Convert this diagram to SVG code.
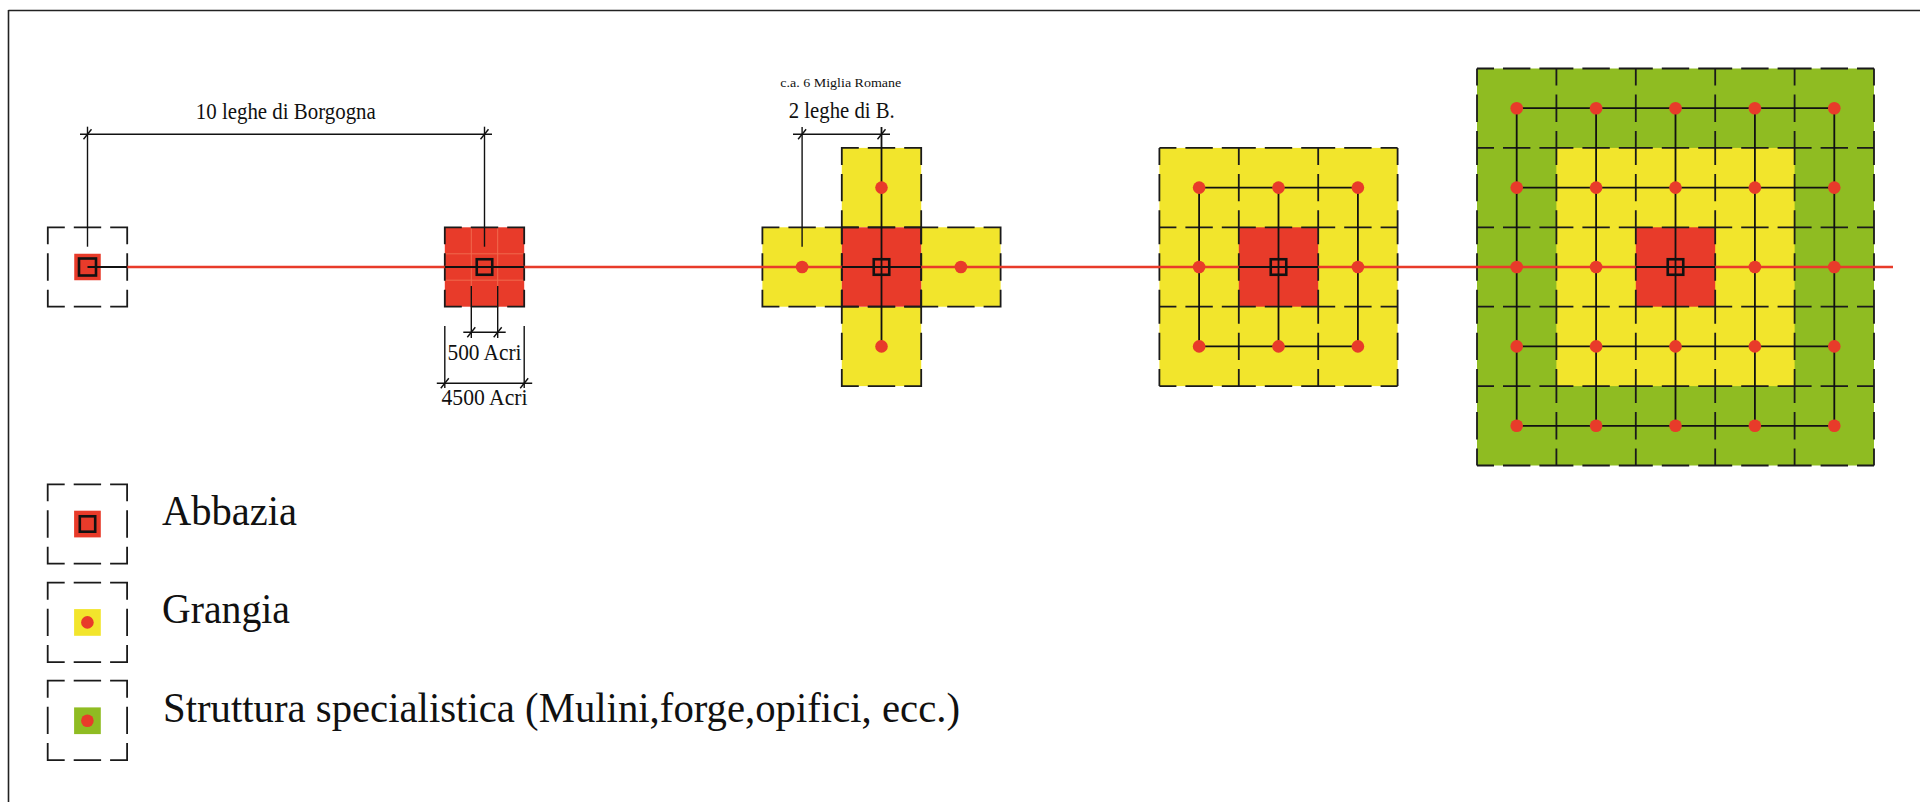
<svg xmlns="http://www.w3.org/2000/svg" width="1920" height="802" viewBox="0 0 1920 802">
<style>
.red{fill:#e83b2a}
.yel{fill:#f2e52c}
.grn{fill:#8fbc22}
.dash{fill:none;stroke:#1a1a1a;stroke-width:1.8;stroke-dasharray:34 9 27.4 9;stroke-dashoffset:17}
.ln{stroke:#111;stroke-width:1.8;fill:none}
.dim{stroke:#111;stroke-width:1.4;fill:none}
.road{stroke:#e83b2a;stroke-width:2.6;fill:none}
.sub{stroke:#f06a4e;stroke-width:1;fill:none}
.sq{fill:none;stroke:#111;stroke-width:2.6}
.dot{fill:#e83b2a}
.t{font-family:"Liberation Serif","Times New Roman",serif;fill:#111}
</style>
<rect width="1920" height="802" fill="#ffffff"/>
<g id="frame">
<line x1="8.5" y1="10.5" x2="1920" y2="10.5" stroke="#222" stroke-width="1.6"/>
<line x1="8.5" y1="10" x2="8.5" y2="802" stroke="#222" stroke-width="1.6"/>
</g>

<!-- node 1: single abbey -->
<g id="node-abbazia-1">
<rect class="red" x="74.25" y="253.75" width="26.5" height="26.5"/>
<rect class="dash" x="47.8" y="227.3" width="79.4" height="79.4"/>
</g>

<!-- node 2: abbey with 4500 acres -->
<g id="node-abbazia-2">
<rect class="red" x="444.8" y="227.3" width="79.4" height="79.4"/>
<line class="sub" x1="471.3" y1="227.3" x2="471.3" y2="306.7"/>
<line class="sub" x1="497.7" y1="227.3" x2="497.7" y2="306.7"/>
<line class="sub" x1="444.8" y1="253.8" x2="524.2" y2="253.8"/>
<line class="sub" x1="444.8" y1="280.2" x2="524.2" y2="280.2"/>
<rect class="dash" x="444.8" y="227.3" width="79.4" height="79.4"/>
</g>

<!-- node 3: cross of granges -->
<g id="node-croce">
<rect class="yel" x="841.8" y="147.9" width="79.4" height="79.4"/>
<rect class="yel" x="841.8" y="306.7" width="79.4" height="79.4"/>
<rect class="yel" x="762.4" y="227.3" width="79.4" height="79.4"/>
<rect class="yel" x="921.2" y="227.3" width="79.4" height="79.4"/>
<rect class="red" x="841.8" y="227.3" width="79.4" height="79.4"/>
<rect class="dash" x="841.8" y="147.9" width="79.4" height="79.4"/>
<rect class="dash" x="841.8" y="306.7" width="79.4" height="79.4"/>
<rect class="dash" x="762.4" y="227.3" width="79.4" height="79.4"/>
<rect class="dash" x="921.2" y="227.3" width="79.4" height="79.4"/>
<rect class="dash" x="841.8" y="227.3" width="79.4" height="79.4"/>
</g>

<!-- node 4: 3x3 -->
<g id="node-griglia-3x3">
<rect class="yel" x="1159.4" y="147.9" width="238.2" height="238.2"/>
<rect class="red" x="1238.8" y="227.3" width="79.4" height="79.4"/>
<line class="dash" x1="1159.4" y1="147.9" x2="1397.6" y2="147.9"/>
<line class="dash" x1="1159.4" y1="227.3" x2="1397.6" y2="227.3"/>
<line class="dash" x1="1159.4" y1="306.7" x2="1397.6" y2="306.7"/>
<line class="dash" x1="1159.4" y1="386.1" x2="1397.6" y2="386.1"/>
<line class="dash" x1="1159.4" y1="147.9" x2="1159.4" y2="386.1"/>
<line class="dash" x1="1238.8" y1="147.9" x2="1238.8" y2="386.1"/>
<line class="dash" x1="1318.2" y1="147.9" x2="1318.2" y2="386.1"/>
<line class="dash" x1="1397.6" y1="147.9" x2="1397.6" y2="386.1"/>
</g>

<!-- node 5: 5x5 -->
<g id="node-griglia-5x5">
<rect class="grn" x="1477" y="68.5" width="397" height="397"/>
<rect class="yel" x="1556.4" y="147.9" width="238.2" height="238.2"/>
<rect class="red" x="1635.8" y="227.3" width="79.4" height="79.4"/>
<line class="dash" x1="1477" y1="68.5" x2="1874" y2="68.5"/>
<line class="dash" x1="1477" y1="147.9" x2="1874" y2="147.9"/>
<line class="dash" x1="1477" y1="227.3" x2="1874" y2="227.3"/>
<line class="dash" x1="1477" y1="306.7" x2="1874" y2="306.7"/>
<line class="dash" x1="1477" y1="386.1" x2="1874" y2="386.1"/>
<line class="dash" x1="1477" y1="465.5" x2="1874" y2="465.5"/>
<line class="dash" x1="1477" y1="68.5" x2="1477" y2="465.5"/>
<line class="dash" x1="1556.4" y1="68.5" x2="1556.4" y2="465.5"/>
<line class="dash" x1="1635.8" y1="68.5" x2="1635.8" y2="465.5"/>
<line class="dash" x1="1715.2" y1="68.5" x2="1715.2" y2="465.5"/>
<line class="dash" x1="1794.6" y1="68.5" x2="1794.6" y2="465.5"/>
<line class="dash" x1="1874" y1="68.5" x2="1874" y2="465.5"/>
</g>

<!-- connectors -->
<g id="connectors">
<line class="road" x1="127.2" y1="267" x2="1893" y2="267"/>
<line class="ln" x1="87.5" y1="267" x2="127.2" y2="267" stroke-width="2.2"/>
<line class="ln" x1="444.8" y1="267" x2="524.2" y2="267" stroke-width="2.2"/>
<line class="ln" x1="841.8" y1="267" x2="921.2" y2="267" stroke-width="2.2"/>
<line class="ln" x1="881.5" y1="127" x2="881.5" y2="346.4"/>
<line class="ln" x1="1238.8" y1="267" x2="1318.2" y2="267" stroke-width="2.2"/>
<line class="ln" x1="1199.1" y1="187.6" x2="1357.9" y2="187.6"/>
<line class="ln" x1="1199.1" y1="346.4" x2="1357.9" y2="346.4"/>
<line class="ln" x1="1199.1" y1="187.6" x2="1199.1" y2="346.4"/>
<line class="ln" x1="1278.5" y1="187.6" x2="1278.5" y2="346.4"/>
<line class="ln" x1="1357.9" y1="187.6" x2="1357.9" y2="346.4"/>
<line class="ln" x1="1635.8" y1="267" x2="1715.2" y2="267" stroke-width="2.2"/>
<line class="ln" x1="1516.7" y1="108.2" x2="1834.3" y2="108.2"/>
<line class="ln" x1="1516.7" y1="187.6" x2="1834.3" y2="187.6"/>
<line class="ln" x1="1516.7" y1="346.4" x2="1834.3" y2="346.4"/>
<line class="ln" x1="1516.7" y1="425.8" x2="1834.3" y2="425.8"/>
<line class="ln" x1="1516.7" y1="108.2" x2="1516.7" y2="425.8"/>
<line class="ln" x1="1596.1" y1="108.2" x2="1596.1" y2="425.8"/>
<line class="ln" x1="1675.5" y1="108.2" x2="1675.5" y2="425.8"/>
<line class="ln" x1="1754.9" y1="108.2" x2="1754.9" y2="425.8"/>
<line class="ln" x1="1834.3" y1="108.2" x2="1834.3" y2="425.8"/>
</g>

<!-- abbey marks and grange dots -->
<g id="sites">
<rect class="sq" x="79" y="258.5" width="17" height="17" stroke-width="3.2"/>
<rect class="sq" x="476.75" y="259.25" width="15.5" height="15.5"/>
<rect class="sq" x="873.75" y="259.25" width="15.5" height="15.5"/>
<rect class="sq" x="1270.75" y="259.25" width="15.5" height="15.5"/>
<rect class="sq" x="1667.75" y="259.25" width="15.5" height="15.5"/>
<g id="dots-croce">
<circle class="dot" cx="802.1" cy="267" r="6.3"/>
<circle class="dot" cx="960.9" cy="267" r="6.3"/>
<circle class="dot" cx="881.5" cy="187.6" r="6.3"/>
<circle class="dot" cx="881.5" cy="346.4" r="6.3"/>
</g>
<g id="dots-3x3">
<circle class="dot" cx="1199.1" cy="187.6" r="6.3"/>
<circle class="dot" cx="1278.5" cy="187.6" r="6.3"/>
<circle class="dot" cx="1357.9" cy="187.6" r="6.3"/>
<circle class="dot" cx="1199.1" cy="267" r="6.3"/>
<circle class="dot" cx="1357.9" cy="267" r="6.3"/>
<circle class="dot" cx="1199.1" cy="346.4" r="6.3"/>
<circle class="dot" cx="1278.5" cy="346.4" r="6.3"/>
<circle class="dot" cx="1357.9" cy="346.4" r="6.3"/>
</g>
<g id="dots-5x5">
<circle class="dot" cx="1516.7" cy="108.2" r="6.3"/>
<circle class="dot" cx="1596.1" cy="108.2" r="6.3"/>
<circle class="dot" cx="1675.5" cy="108.2" r="6.3"/>
<circle class="dot" cx="1754.9" cy="108.2" r="6.3"/>
<circle class="dot" cx="1834.3" cy="108.2" r="6.3"/>
<circle class="dot" cx="1516.7" cy="187.6" r="6.3"/>
<circle class="dot" cx="1596.1" cy="187.6" r="6.3"/>
<circle class="dot" cx="1675.5" cy="187.6" r="6.3"/>
<circle class="dot" cx="1754.9" cy="187.6" r="6.3"/>
<circle class="dot" cx="1834.3" cy="187.6" r="6.3"/>
<circle class="dot" cx="1516.7" cy="267" r="6.3"/>
<circle class="dot" cx="1596.1" cy="267" r="6.3"/>
<circle class="dot" cx="1754.9" cy="267" r="6.3"/>
<circle class="dot" cx="1834.3" cy="267" r="6.3"/>
<circle class="dot" cx="1516.7" cy="346.4" r="6.3"/>
<circle class="dot" cx="1596.1" cy="346.4" r="6.3"/>
<circle class="dot" cx="1675.5" cy="346.4" r="6.3"/>
<circle class="dot" cx="1754.9" cy="346.4" r="6.3"/>
<circle class="dot" cx="1834.3" cy="346.4" r="6.3"/>
<circle class="dot" cx="1516.7" cy="425.8" r="6.3"/>
<circle class="dot" cx="1596.1" cy="425.8" r="6.3"/>
<circle class="dot" cx="1675.5" cy="425.8" r="6.3"/>
<circle class="dot" cx="1754.9" cy="425.8" r="6.3"/>
<circle class="dot" cx="1834.3" cy="425.8" r="6.3"/>
</g>
</g>

<!-- dimensions -->
<g id="dim-10-leghe">
<line class="dim" x1="80" y1="134.3" x2="492" y2="134.3"/>
<line class="dim" x1="87.5" y1="126.7" x2="87.5" y2="246.7"/>
<line class="dim" x1="484.5" y1="126.7" x2="484.5" y2="246.7"/>
<path class="dim" d="M83.5 139.3 L91.5 129.3 M480.5 139.3 L488.5 129.3"/>
<text class="t" x="285.8" y="119.3" font-size="23" text-anchor="middle" textLength="180" lengthAdjust="spacingAndGlyphs">10 leghe di Borgogna</text>
</g>
<g id="dim-500-acri">
<line class="dim" x1="471.3" y1="286" x2="471.3" y2="338"/>
<line class="dim" x1="497.7" y1="286" x2="497.7" y2="338"/>
<line class="dim" x1="463.3" y1="332.3" x2="505.7" y2="332.3"/>
<path class="dim" d="M467.3 337.3 L475.3 327.3 M493.7 337.3 L501.7 327.3"/>
<text class="t" x="484.5" y="360" font-size="23" text-anchor="middle" textLength="74" lengthAdjust="spacingAndGlyphs">500 Acri</text>
</g>
<g id="dim-4500-acri">
<line class="dim" x1="444.8" y1="326" x2="444.8" y2="388"/>
<line class="dim" x1="524.2" y1="326" x2="524.2" y2="388"/>
<line class="dim" x1="436.8" y1="383.3" x2="532.2" y2="383.3"/>
<path class="dim" d="M440.8 388.3 L448.8 378.3 M520.2 388.3 L528.2 378.3"/>
<text class="t" x="484.5" y="405" font-size="23" text-anchor="middle" textLength="86" lengthAdjust="spacingAndGlyphs">4500 Acri</text>
</g>
<g id="dim-2-leghe">
<line class="dim" x1="793" y1="134.3" x2="890" y2="134.3"/>
<line class="dim" x1="802.1" y1="127" x2="802.1" y2="246.7"/>
<path class="dim" d="M798.1 139.3 L806.1 129.3 M877.5 139.3 L885.5 129.3"/>
<text class="t" x="841.8" y="118.3" font-size="23" text-anchor="middle" textLength="106" lengthAdjust="spacingAndGlyphs">2 leghe di B.</text>
<text class="t" x="840.8" y="86.7" font-size="13" text-anchor="middle" textLength="121" lengthAdjust="spacingAndGlyphs">c.a. 6 Miglia Romane</text>
</g>

<!-- legend -->
<g id="legend-abbazia">
<rect class="dash" x="47.7" y="484.3" width="79.4" height="79.4"/>
<rect class="red" x="74.1" y="510.7" width="26.7" height="26.7"/>
<rect class="sq" x="79.8" y="516.3" width="15.4" height="15.4" stroke-width="3"/>
<text class="t" x="162" y="525" font-size="42" textLength="135" lengthAdjust="spacingAndGlyphs">Abbazia</text>
</g>
<g id="legend-grangia">
<rect class="dash" x="47.7" y="582.7" width="79.4" height="79.4"/>
<rect class="yel" x="74.1" y="609.1" width="26.7" height="26.7"/>
<circle class="dot" cx="87.4" cy="622.4" r="6.3"/>
<text class="t" x="162" y="623" font-size="42" textLength="128" lengthAdjust="spacingAndGlyphs">Grangia</text>
</g>
<g id="legend-struttura">
<rect class="dash" x="47.7" y="680.7" width="79.4" height="79.4"/>
<rect class="grn" x="74.1" y="707.4" width="26.7" height="26.7"/>
<circle class="dot" cx="87.4" cy="720.7" r="6.3"/>
<text class="t" x="163" y="722" font-size="42" textLength="797" lengthAdjust="spacingAndGlyphs">Struttura specialistica (Mulini,forge,opifici, ecc.)</text>
</g>
</svg>
